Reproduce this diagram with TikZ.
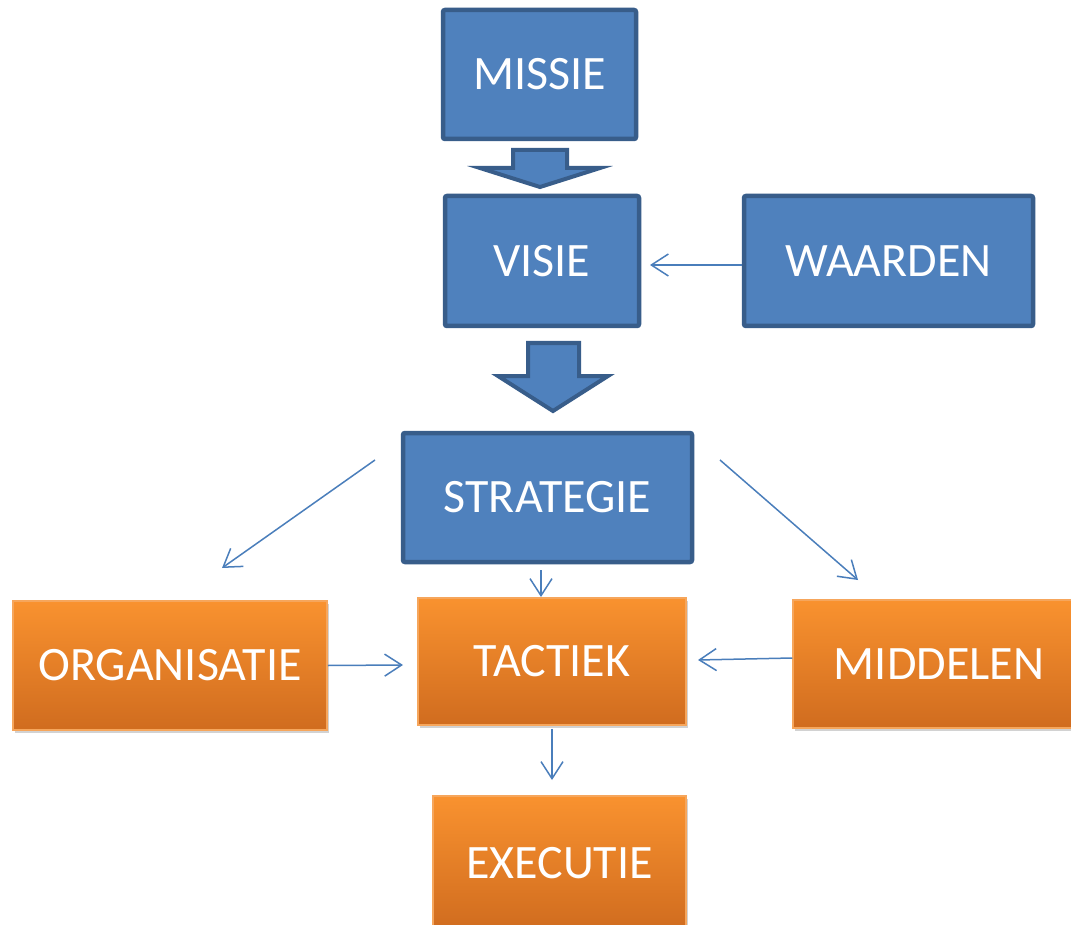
\documentclass[tikz,border=0pt]{standalone}
\usepackage{fontspec}
\setmainfont{Carlito}
\usetikzlibrary{arrows.meta,shadows}
\definecolor{bfill}{HTML}{4F81BD}
\definecolor{bline}{HTML}{385D8A}
\definecolor{otop}{HTML}{F9922F}
\definecolor{obot}{HTML}{D06C1F}
\definecolor{oline}{HTML}{F6A65C}
\definecolor{conncol}{HTML}{4A7EBB}
\tikzset{
  bluebox/.style={draw=bline, line width=4.5pt, fill=bfill, rounded corners=2pt,
    text=white, font=\fontsize{48}{52}\selectfont, inner sep=0pt},
  orangebox/.style={draw=oline, line width=1.5pt, top color=otop, bottom color=obot,
    text=white, font=\fontsize{48}{52}\selectfont, inner sep=0pt,
    drop shadow={opacity=0.35, shadow xshift=2pt, shadow yshift=-3pt}},
  blockarrow/.style={draw=bline, line width=4pt, fill=bfill, line join=miter},
  connline/.style={draw=conncol, line width=1.5pt,
    -{Straight Barb[length=17pt,width=22pt,line width=1.5pt]}},
}
\begin{document}
\begin{tikzpicture}[x=1pt,y=-1pt]
\clip (0,0) rectangle (1071,925);
\fill[white] (0,0) rectangle (1071,925);
% blue boxes
\node[bluebox, minimum width=193pt, minimum height=129pt] (missie) at (539.5,74.5) {MISSIE};
\node[bluebox, minimum width=194pt, minimum height=130pt] (visie) at (542,261) {VISIE};
\node[bluebox, minimum width=289pt, minimum height=130pt] (waarden) at (888.5,261) {WAARDEN};
\node[bluebox, minimum width=289pt, minimum height=129pt] (strategie) at (547.5,497.5) {STRATEGIE};
% block arrows
\draw[blockarrow] (513,150) -- (567,150) -- (567,168) -- (600,168) -- (540,187) -- (480,168) -- (513,168) -- cycle;
\draw[blockarrow] (528,343) -- (579,343) -- (579,376) -- (608,376) -- (553,411) -- (498,376) -- (528,376) -- cycle;
% orange boxes
\node[orangebox, minimum width=314pt, minimum height=129pt] (organisatie) at (170,665.5) {ORGANISATIE};
\node[orangebox, minimum width=268pt, minimum height=127pt] (tactiek) at (552,661.5) {TACTIEK};
\node[orangebox, minimum width=292pt, minimum height=128pt] (middelen) at (939,664) {MIDDELEN};
\node[orangebox, minimum width=253pt, minimum height=134pt] (executie) at (559.5,863) {EXECUTIE};
% free ends of connectors
\coordinate (sl) at (375,460);
\coordinate (sle) at (222,568);
\coordinate (sr) at (720,460);
\coordinate (sre) at (858,580);
\coordinate (va) at (650,265);
\coordinate (st) at (541,570);
\coordinate (ta) at (541,597);
\coordinate (to) at (403,665);
\coordinate (tm) at (698,660);
\coordinate (te) at (552,780);
% connectors
\draw[connline] ([yshift=-4pt]waarden.west) -- (va);
\draw[connline] (sl) -- (sle);
\draw[connline] (sr) -- (sre);
\draw[connline] (st) -- (ta);
\draw[connline] (organisatie.east) -- (to);
\draw[connline] ([yshift=6pt]middelen.west) -- (tm);
\draw[connline] ([yshift=-3pt]tactiek.south) -- (te);
\end{tikzpicture}
\end{document}
